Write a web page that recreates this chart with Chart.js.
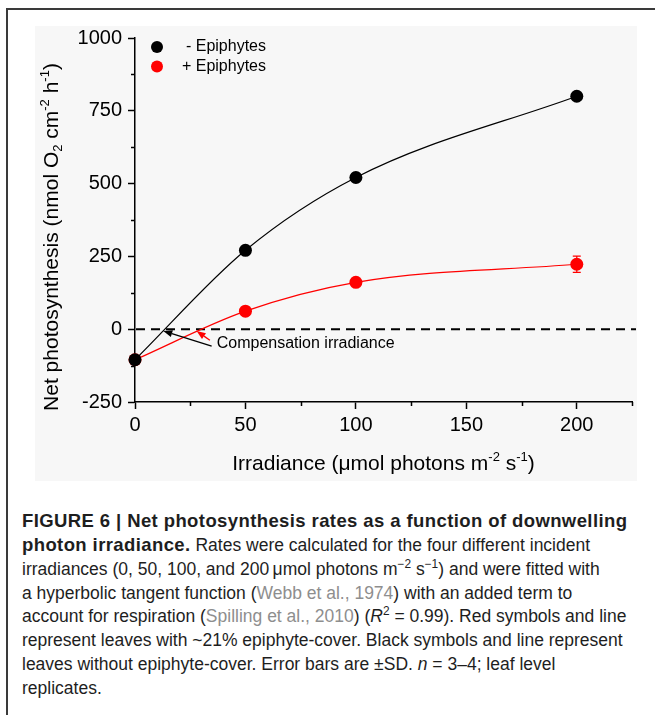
<!DOCTYPE html>
<html>
<head>
<meta charset="utf-8">
<script src="https://cdn.jsdelivr.net/npm/chart.js@4.4.1/dist/chart.umd.min.js"></script>
<style>
  html, body { margin: 0; padding: 0; background: #fff; }
  body { width: 655px; height: 715px; position: relative; overflow: hidden;
         font-family: "Liberation Sans", Arial, Helvetica, sans-serif; }
  #frameTop  { position: absolute; left: 6px; top: 8px; width: 649px; height: 2px; background: #3a3a3a; }
  #frameLeft { position: absolute; left: 6px; top: 8px; width: 2px; height: 707px; background: #3a3a3a; }
  #panel { position: absolute; left: 35px; top: 26px; width: 602px; height: 455px; background: #f7f7f7; }
  #chart { position: absolute; left: 0; top: 0; }
  #caption { position: absolute; left: 22px; top: 509px; font-size: 17.5px; line-height: 23.86px;
             color: #1e1e1e; white-space: nowrap; }
  #caption .b { font-weight: bold; font-size: 18.5px; letter-spacing: 0.4px; }
  #caption .ref { color: #8e8e8e; }
  #caption sup { font-size: 0.68em; line-height: 0; vertical-align: 0.55em; }
</style>
</head>
<body>
<div id="panel"></div>
<div id="frameTop"></div>
<div id="frameLeft"></div>
<canvas id="chart" width="655" height="490"></canvas>
<div id="caption">
  <div class="b">FIGURE 6 | Net photosynthesis rates as a function of downwelling</div>
  <div><span class="b">photon irradiance.</span> Rates were calculated for the four different incident</div>
  <div>irradiances (0, 50, 100, and 200&thinsp;μmol photons m<sup>−2</sup> s<sup>−1</sup>) and were fitted with</div>
  <div>a hyperbolic tangent function (<span class="ref">Webb et al., 1974</span>) with an added term to</div>
  <div>account for respiration (<span class="ref">Spilling et al., 2010</span>) (<i>R</i><sup>2</sup> = 0.99). Red symbols and line</div>
  <div>represent leaves with ~21% epiphyte-cover. Black symbols and line represent</div>
  <div>leaves without epiphyte-cover. Error bars are ±SD. <i>n</i> = 3–4; leaf level</div>
  <div>replicates.</div>
</div>
<script>
// Incident photon irradiance (µmol photons m-2 s-1)
const irradiance = [0, 50, 100, 200];
// Net photosynthesis (nmol O2 cm-2 h-1), leaves without / with epiphytes
const rateNoEpiphytes = [-105, 271, 521, 800];
const rateEpiphytes = [-105, 62, 161, 223];
// Standard deviations
const sdNoEpiphytes = [8, 12, 14, 12];
const sdEpiphytes = [8, 10, 12, 28];
const seriesLabels = ['- Epiphytes', '+ Epiphytes'];
const xTickLabels = [0, 50, 100, 150, 200];
const yTickLabels = [-250, 0, 250, 500, 750, 1000];

const FONT = '"Liberation Sans", Arial, Helvetica, sans-serif';
const BLACK = '#000000';
const RED = '#ff0000';

// Arrows pointing at the light compensation points (data units)
const compensationNote = {
  text: 'Compensation irradiance',
  at: { x: 37, y: -48 },
  arrows: [
    { from: { x: 34.7, y: -58 }, to: { x: 12.8, y: -6 }, color: BLACK },
    { from: { x: 33.9, y: -38 }, to: { x: 27.9, y: -6 }, color: RED }
  ]
};

const xTitle = [
  { t: 'Irradiance (μmol photons m' }, { t: '-2', sup: true },
  { t: ' s' }, { t: '-1', sup: true }, { t: ')' }
];
const yTitle = [
  { t: 'Net photosynthesis (nmol O' }, { t: '2', sub: true },
  { t: ' cm' }, { t: '-2', sup: true }, { t: ' h' }, { t: '-1', sup: true }, { t: ')' }
];

function partFont(p, size) {
  return ((p.sup || p.sub) ? Math.round(size * 0.6) : size) + 'px ' + FONT;
}
function richWidth(ctx, parts, size) {
  let w = 0;
  for (const p of parts) { ctx.font = partFont(p, size); w += ctx.measureText(p.t).width; }
  return w;
}
function drawRich(ctx, parts, x, y, size) {
  let cx = x;
  ctx.textAlign = 'left';
  ctx.textBaseline = 'alphabetic';
  for (const p of parts) {
    ctx.font = partFont(p, size);
    const dy = p.sup ? -0.42 * size : (p.sub ? 0.2 * size : 0);
    ctx.fillText(p.t, cx, y + dy);
    cx += ctx.measureText(p.t).width;
  }
}

const decorations = {
  id: 'decorations',
  beforeDatasetsDraw(chart) {
    const { ctx, chartArea: a, scales: { x, y } } = chart;
    // dashed zero line
    ctx.save();
    ctx.strokeStyle = BLACK;
    ctx.lineWidth = 2;
    ctx.setLineDash([9, 6]);
    const y0 = y.getPixelForValue(0);
    ctx.beginPath();
    ctx.moveTo(a.left + 1, y0);
    ctx.lineTo(a.right + 4, y0);
    ctx.stroke();
    ctx.restore();
    // error bars (drawn beneath the symbols)
    chart.data.datasets.forEach((ds) => {
      ctx.save();
      ctx.strokeStyle = ds.borderColor;
      ctx.lineWidth = 1.2;
      ds.data.forEach((pt, j) => {
        const px = x.getPixelForValue(pt.x);
        const top = y.getPixelForValue(pt.y + ds.sd[j]);
        const bot = y.getPixelForValue(pt.y - ds.sd[j]);
        ctx.beginPath();
        ctx.moveTo(px, top); ctx.lineTo(px, bot);
        ctx.moveTo(px - 4, top); ctx.lineTo(px + 4, top);
        ctx.moveTo(px - 4, bot); ctx.lineTo(px + 4, bot);
        ctx.stroke();
      });
      ctx.restore();
    });
  },
  afterDraw(chart) {
    const { ctx, chartArea: a, scales: { x, y } } = chart;
    ctx.save();
    // minor tick marks
    ctx.strokeStyle = BLACK;
    ctx.lineWidth = 1.5;
    ctx.beginPath();
    x.ticks.forEach((t) => {
      if (xTickLabels.includes(t.value)) return;
      const px = Math.round(x.getPixelForValue(t.value)) + 0.5;
      ctx.moveTo(px, a.bottom); ctx.lineTo(px, a.bottom + 4);
    });
    y.ticks.forEach((t) => {
      if (yTickLabels.includes(t.value)) return;
      const py = Math.round(y.getPixelForValue(t.value)) + 0.5;
      ctx.moveTo(a.left, py); ctx.lineTo(a.left - 4, py);
    });
    ctx.stroke();

    // axis titles
    ctx.fillStyle = BLACK;
    const size = 21;
    const xw = richWidth(ctx, xTitle, size);
    drawRich(ctx, xTitle, (a.left + a.right) / 2 - xw / 2, a.bottom + 68, size);
    const yw = richWidth(ctx, yTitle, size);
    ctx.save();
    ctx.translate(a.left - 77, (a.top + a.bottom) / 2 + 17);
    ctx.rotate(-Math.PI / 2);
    drawRich(ctx, yTitle, -yw / 2, 0, size);
    ctx.restore();

    // legend
    chart.data.datasets.forEach((ds, i) => {
      const cy = a.top + 9 + i * 19.5;
      ctx.fillStyle = ds.backgroundColor;
      ctx.beginPath();
      ctx.arc(a.left + 22, cy, 6, 0, Math.PI * 2);
      ctx.fill();
      ctx.fillStyle = BLACK;
      ctx.font = '16px ' + FONT;
      ctx.textAlign = 'right';
      ctx.textBaseline = 'middle';
      ctx.fillText(ds.label, a.left + 131, cy);
    });

    // compensation irradiance annotation
    compensationNote.arrows.forEach((ar) => {
      const fx = x.getPixelForValue(ar.from.x), fy = y.getPixelForValue(ar.from.y);
      const tx = x.getPixelForValue(ar.to.x), ty = y.getPixelForValue(ar.to.y);
      const ang = Math.atan2(ty - fy, tx - fx);
      const len = 9, half = 3.5;
      const bx = tx - len * Math.cos(ang), by = ty - len * Math.sin(ang);
      ctx.strokeStyle = ar.color;
      ctx.fillStyle = ar.color;
      ctx.lineWidth = 1.3;
      ctx.beginPath();
      ctx.moveTo(fx, fy); ctx.lineTo(bx, by);
      ctx.stroke();
      ctx.beginPath();
      ctx.moveTo(tx, ty);
      ctx.lineTo(bx + half * Math.sin(ang), by - half * Math.cos(ang));
      ctx.lineTo(bx - half * Math.sin(ang), by + half * Math.cos(ang));
      ctx.closePath();
      ctx.fill();
    });
    ctx.fillStyle = BLACK;
    ctx.font = '16px ' + FONT;
    ctx.textAlign = 'left';
    ctx.textBaseline = 'middle';
    ctx.fillText(compensationNote.text, x.getPixelForValue(compensationNote.at.x), y.getPixelForValue(compensationNote.at.y));
    ctx.restore();
  }
};

function series(label, color, values, sd) {
  return {
    label,
    data: irradiance.map((v, i) => ({ x: v, y: values[i] })),
    sd,
    showLine: true,
    borderColor: color,
    backgroundColor: color,
    borderWidth: 1.2,
    pointRadius: 6.5,
    pointHoverRadius: 6.5,
    pointBorderWidth: 0,
    pointBackgroundColor: color,
    cubicInterpolationMode: 'monotone',
    clip: false
  };
}

const tickFont = { family: FONT, size: 20 };

new Chart(document.getElementById('chart'), {
  type: 'scatter',
  data: {
    datasets: [
      series(seriesLabels[0], BLACK, rateNoEpiphytes, sdNoEpiphytes),
      series(seriesLabels[1], RED, rateEpiphytes, sdEpiphytes)
    ]
  },
  options: {
    responsive: false,
    animation: false,
    devicePixelRatio: 1,
    events: [],
    layout: { padding: { left: 0, right: 23, top: 38, bottom: 0 } },
    plugins: { legend: { display: false }, tooltip: { enabled: false } },
    scales: {
      x: {
        type: 'linear', min: 0, max: 225,
        afterFit(s) { s.height = 88; },
        border: { display: true, color: BLACK, width: 1.5 },
        grid: {
          display: true, drawOnChartArea: false, drawTicks: true, tickLength: 7, tickWidth: 1.5,
          tickColor: (c) => (c.tick && xTickLabels.includes(c.tick.value)) ? BLACK : 'rgba(0,0,0,0)'
        },
        ticks: {
          stepSize: 25, autoSkip: false, maxRotation: 0, padding: 4,
          color: BLACK, font: tickFont,
          callback: (v) => xTickLabels.includes(v) ? String(v) : ''
        }
      },
      y: {
        type: 'linear', min: -250, max: 1000,
        afterFit(s) { s.width = 135; },
        border: { display: true, color: BLACK, width: 1.5 },
        grid: {
          display: true, drawOnChartArea: false, drawTicks: true, tickLength: 7, tickWidth: 1.5,
          tickColor: (c) => (c.tick && yTickLabels.includes(c.tick.value)) ? BLACK : 'rgba(0,0,0,0)'
        },
        ticks: {
          stepSize: 125, autoSkip: false, padding: 6,
          color: BLACK, font: tickFont,
          callback: (v) => yTickLabels.includes(v) ? String(v) : ''
        }
      }
    }
  },
  plugins: [decorations]
});
</script>
</body>
</html>
